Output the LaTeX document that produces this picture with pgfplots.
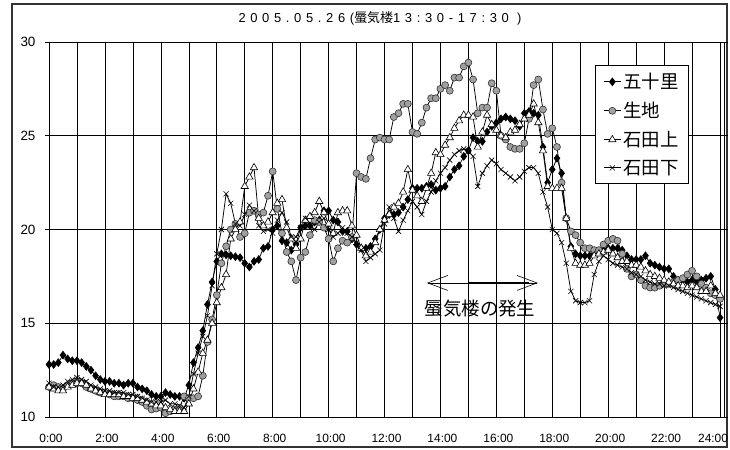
\documentclass[border=0pt]{standalone}
\usepackage{pgfplots}
\usepackage{pgfplotstable}
\pgfplotsset{compat=1.18}
\usepackage{fontspec}
\setmainfont{Liberation Sans}
\newfontfamily\jp{Noto Sans CJK JP}
\newfontfamily\ttl[LetterSpace=36]{Liberation Sans}
\usetikzlibrary{arrows.meta}
\definecolor{cgray}{RGB}{160,160,160}

\pgfplotstableread{
i a b c d
0 12.8 11.6 11.6 11.8
1 12.8 11.7 11.5 11.6
2 12.9 11.6 11.4 11.6
3 13.3 11.5 11.4 11.7
4 13.1 11.7 11.6 11.9
5 13.0 11.8 11.7 12.0
6 13.0 11.8 11.8 12.1
7 12.9 11.8 11.8 12.0
8 12.7 11.6 11.7 11.9
9 12.5 11.5 11.5 11.7
10 12.2 11.4 11.4 11.6
11 12.0 11.3 11.3 11.5
12 11.9 11.3 11.2 11.4
13 11.9 11.2 11.2 11.4
14 11.8 11.1 11.2 11.3
15 11.8 11.1 11.2 11.3
16 11.7 11.1 11.1 11.3
17 11.8 11.0 11.1 11.2
18 11.8 11.0 11.0 11.2
19 11.6 10.9 11.0 11.1
20 11.5 10.8 10.9 11.0
21 11.4 10.6 10.8 10.9
22 11.2 10.4 10.7 10.8
23 11.1 10.45 10.6 10.8
24 11.1 10.5 10.6 10.8
25 11.3 10.2 10.5 10.9
26 11.2 10.3 10.4 10.7
27 11.1 10.4 10.3 10.7
28 11.1 10.5 10.3 10.6
29 11.0 11.1 10.3 10.5
30 11.7 11.0 10.7 11.1
31 12.9 11.0 11.5 12.3
32 13.7 11.1 12.4 13.4
33 14.6 12.2 13.4 14.3
34 16.0 14.0 14.1 15.4
35 17.2 15.2 15.0 17.0
36 18.3 16.5 16.1 18.7
37 18.7 18.2 16.9 20.0
38 18.65 19.1 17.6 21.9
39 18.6 20.0 19.5 21.4
40 18.55 20.3 20.0 20.3
41 18.5 19.6 20.4 20.2
42 18.2 19.8 22.3 20.8
43 18.0 20.9 22.8 21.3
44 18.3 21.0 23.3 21.0
45 18.4 20.8 20.6 20.2
46 19.0 20.9 20.2 19.9
47 19.1 21.8 20.4 20.0
48 20.0 23.1 20.9 19.8
49 20.2 21.1 21.4 20.5
50 19.4 19.8 21.6 20.9
51 19.3 18.8 20.1 20.4
52 18.9 18.3 19.5 19.6
53 19.2 17.3 19.0 19.6
54 20.1 18.5 19.5 20.1
55 20.2 18.8 20.5 20.6
56 20.2 19.7 20.7 20.2
57 20.4 20.5 20.9 20.0
58 20.5 20.4 21.5 20.4
59 21.0 20.1 20.9 20.6
60 21.0 19.5 20.3 20.0
61 20.5 18.3 19.8 19.6
62 20.4 19.0 20.9 19.8
63 19.9 19.4 21.0 20.1
64 19.9 19.3 21.0 19.8
65 19.5 19.6 20.2 19.6
66 19.2 23.0 19.7 19.3
67 19.0 22.8 19.0 18.9
68 19.0 22.7 18.6 18.3
69 19.1 23.8 18.8 18.5
70 19.5 24.8 19.3 18.7
71 20.0 24.9 20.0 18.9
72 20.6 24.8 20.5 20.3
73 20.8 24.8 20.8 21.2
74 20.8 26.0 21.2 20.6
75 20.9 26.2 21.4 19.9
76 21.2 26.7 22.0 20.5
77 21.6 26.7 23.2 21.0
78 22.2 25.2 22.1 21.5
79 22.2 25.1 21.8 21.2
80 22.2 25.7 21.5 20.8
81 22.3 26.5 22.2 21.5
82 22.4 27.0 23.0 22.0
83 22.1 27.0 24.1 22.6
84 22.2 27.5 24.0 23.0
85 22.3 27.7 24.5 23.3
86 22.8 27.4 24.9 23.7
87 23.2 28.1 25.4 24.0
88 23.4 28.1 25.8 24.2
89 23.9 28.7 26.1 24.3
90 24.2 28.9 26.1 24.2
91 24.9 28.0 26.0 23.9
92 24.7 26.2 24.4 22.3
93 24.7 26.5 25.2 23.0
94 25.2 26.5 26.1 23.4
95 25.5 27.8 25.6 23.7
96 25.7 27.4 25.3 23.5
97 25.9 25.0 25.0 23.2
98 26.0 24.8 24.9 23.0
99 25.9 24.4 25.2 22.8
100 25.8 24.3 25.3 22.6
101 25.5 24.3 25.6 22.8
102 26.2 24.6 25.9 23.1
103 26.3 25.9 26.1 23.3
104 26.2 27.7 26.7 23.3
105 26.1 28.0 25.7 23.0
106 24.4 26.4 24.2 22.0
107 22.5 25.1 22.3 21.2
108 23.2 25.4 22.2 20.0
109 23.8 24.4 22.2 19.8
110 23.0 22.5 22.2 19.3
111 20.6 20.6 20.6 18.2
112 19.1 19.9 19.0 16.7
113 18.7 19.7 18.2 16.2
114 18.6 19.3 18.1 16.1
115 18.6 19.0 18.1 16.1
116 18.6 19.0 18.2 16.2
117 18.7 18.9 18.6 17.6
118 18.8 18.9 18.7 18.3
119 18.9 19.2 18.8 18.6
120 19.0 19.4 18.9 18.4
121 19.0 19.5 18.7 18.2
122 19.0 19.4 18.5 18.1
123 18.9 18.7 18.3 18.0
124 18.6 17.9 18.3 17.9
125 18.4 17.5 18.1 17.7
126 18.4 17.6 18.1 17.6
127 18.4 17.3 18.0 17.5
128 18.6 17.0 17.8 17.3
129 18.2 16.9 17.6 17.2
130 18.1 16.9 17.5 17.1
131 18.0 17.0 17.4 17.1
132 17.9 17.1 17.3 17.0
133 17.9 17.1 17.2 17.0
134 17.5 17.2 17.1 16.9
135 17.3 17.3 17.0 16.8
136 17.3 17.4 17.0 16.7
137 17.2 17.6 16.9 16.6
138 17.3 17.8 17.0 16.5
139 17.2 17.5 16.9 16.4
140 17.3 17.1 16.7 16.3
141 17.4 16.9 16.7 16.2
142 17.5 16.6 17.0 16.1
143 16.8 16.5 16.6 16.0
144 15.3 16.3 16.5 15.9
}\datatable

\begin{document}
\begin{tikzpicture}
\useasboundingbox (0,0) rectangle (730bp,450bp);
\fill[white] (0,0) rectangle (730bp,450bp);
\draw[line width=1.3bp, black!80] (12bp,3bp) rectangle (727bp,446bp);
\node[font=\fontsize{13}{13}\selectfont, inner sep=0pt] at (380bp,432bp)
  {{\ttl 2005.05.26(}{\jp 蜃気楼}{\ttl 13:30-17:30 )}};
\begin{axis}[
  at={(49bp,33bp)}, anchor=south west,
  scale only axis, width=675bp, height=375bp,
  xmin=0, xmax=144.85, ymin=10, ymax=30,
  clip=false,
  xtick={0,6,...,144},
  xticklabels={0:00,,2:00,,4:00,,6:00,,8:00,,10:00,,12:00,,14:00,,16:00,,18:00,,20:00,,22:00,,{\makebox[12bp][r]{24:00}}},
  ytick={10,15,20,25,30},
  grid=major,
  grid style={black, line width=0.6bp},
  axis line style={black, line width=0.8bp},
  tick align=outside,
  x tick style={draw=none},
  y tick style={black, line width=0.6bp},
  major tick length=4bp,
  /pgf/number format/assume math mode=true,
  yticklabel style={font=\fontsize{13.5}{13.5}\selectfont, xshift=-6bp},
  xticklabel style={font=\fontsize{12}{12}\selectfont, yshift=-10bp, xshift=2bp},
  every axis plot/.append style={line width=0.75bp, black},
  legend style={at={(0.809,0.9387)}, anchor=north west, draw=black, line width=0.8bp,
    font=\jp\fontsize{18.5}{21}\selectfont, row sep=8bp, inner xsep=8bp, inner ysep=6bp,
    cells={anchor=west}},
  legend cell align=left,
]
\addplot[mark=diamond*, mark size=3.8bp, mark options={solid, fill=black, draw=black}] table[x=i, y=a] {\datatable};
\addlegendentry{五十里}
\addplot[mark=*, mark size=3.5bp, mark options={solid, fill=cgray, draw=black!80, line width=0.6bp}] table[x=i, y=b] {\datatable};
\addlegendentry{生地}
\addplot[mark=triangle*, mark size=4.2bp, mark options={solid, fill=white, draw=black, line width=0.6bp}] table[x=i, y=c] {\datatable};
\addlegendentry{石田上}
\addplot[mark=x, mark size=3.6bp, mark options={solid, draw=black, line width=0.6bp}] table[x=i, y=d] {\datatable};
\addlegendentry{石田下}
\draw[{Straight Barb[length=20bp,width=15bp]}-{Straight Barb[length=20bp,width=15bp]}, line width=0.6bp] (axis cs:81.1,17.15) -- (axis cs:104.9,17.15);
\draw[line width=1.5bp] (axis cs:90,17.15) -- (axis cs:103,17.15);
\node[font=\jp\fontsize{18.5}{18.5}\selectfont] at (axis cs:92.5,15.8) {蜃気楼の発生};
\end{axis}
\end{tikzpicture}
\end{document}
